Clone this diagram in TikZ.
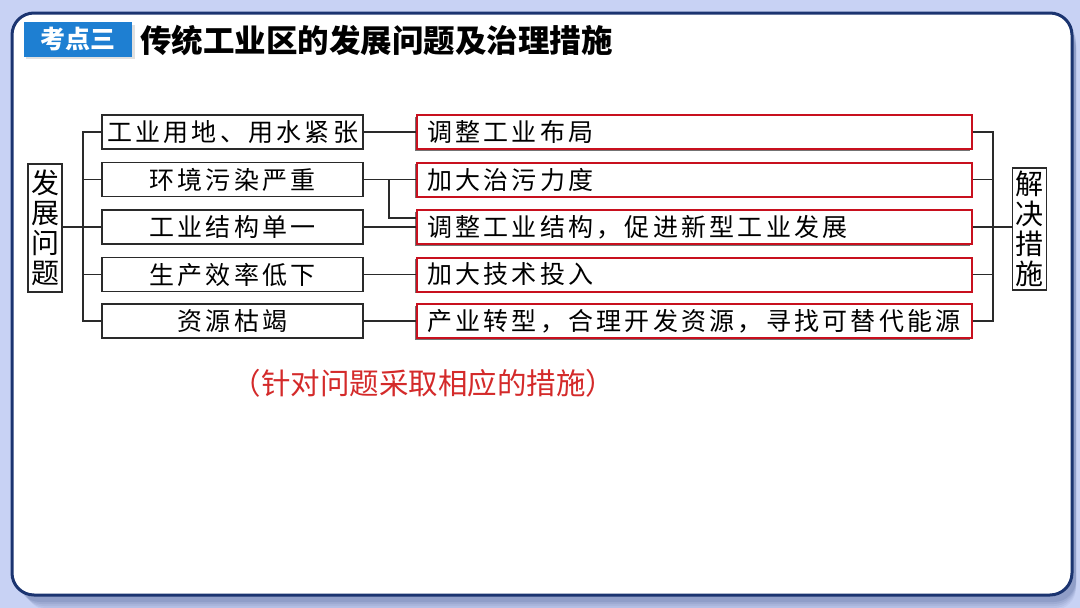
\documentclass[tikz,border=0pt]{standalone}
\usepackage{fontspec}
\usetikzlibrary{shadows,calc}
\newfontfamily\cjk{Noto Sans CJK SC}
\newfontfamily\cjksp[LetterSpace=13]{Noto Sans CJK SC}
\definecolor{bgblue}{HTML}{C8D2F4}
\definecolor{navy}{HTML}{1B3470}
\definecolor{tagblue}{HTML}{1E7FD2}
\definecolor{boxred}{HTML}{C8101E}
\definecolor{notered}{HTML}{D42A2A}
\definecolor{linegray}{HTML}{2A2A2A}
\tikzset{
  probbox/.style={draw=linegray, line width=1.4pt, fill=white, minimum width=261pt, minimum height=34pt, inner sep=0pt, font=\cjksp\fontsize{25}{25}\selectfont},
  solbox/.style={draw=boxred, line width=2pt, fill=white, minimum width=555pt, minimum height=34pt, inner xsep=10pt, inner ysep=0pt, text width=535pt, align=left, font=\cjksp\fontsize{25}{25}\selectfont,
    drop shadow={shadow xshift=-1.6pt, shadow yshift=-1.6pt, opacity=0.55, fill=black}},
  sidebox/.style={draw=linegray, line width=1.4pt, fill=white, minimum width=34pt, inner sep=2pt, align=center, font=\cjk\fontsize{28}{30}\selectfont},
  conn/.style={draw=linegray, line width=1.4pt}
}
\begin{document}
\begin{tikzpicture}[x=1pt,y=-1pt]
\useasboundingbox (0,0) rectangle (1080,608);
\fill[bgblue] (0,0) rectangle (1080,608);
% panel shadow
\foreach \o/\a in {12/0.05,10/0.06,8/0.07,6/0.08,4/0.1}{
  \fill[navy, opacity=\a, rounded corners=22pt] (14+\o,16+\o) rectangle (1076,598+\o);
}
\draw[navy, line width=3pt, fill=white, rounded corners=22pt] (12,13) rectangle (1072,595);
% header
\fill[black, opacity=0.12] (26,25) rectangle (135,59);
\node[fill=tagblue, minimum width=108pt, minimum height=35pt, inner sep=0pt, text=white, font=\cjk\bfseries\fontsize{25}{25}\selectfont] (tag) at (78,39.5) {考点三};
\node[anchor=west, inner sep=0pt, font=\cjk\bfseries\fontsize{31.5}{31.5}\selectfont] (title) at (140,40) {传统工业区的发展问题及治理措施};
% problem boxes
\node[probbox] (p1) at (232.5,132) {工业用地、用水紧张};
\node[probbox] (p2) at (232.5,179.5) {环境污染严重};
\node[probbox] (p3) at (232.5,227) {工业结构单一};
\node[probbox] (p4) at (232.5,274.5) {生产效率低下};
\node[probbox] (p5) at (232.5,321) {资源枯竭};
% solution boxes
\node[solbox] (s1) at (694.5,132) {调整工业布局};
\node[solbox] (s2) at (694.5,179.5) {加大治污力度};
\node[solbox] (s3) at (694.5,227) {调整工业结构，促进新型工业发展};
\node[solbox] (s4) at (694.5,274.5) {加大技术投入};
\node[solbox] (s5) at (694.5,321) {产业转型，合理开发资源，寻找可替代能源};
% side boxes
\node[sidebox, minimum height=128pt] (L) at (45,228) {发\\展\\问\\题};
\node[sidebox, minimum height=122pt] (R) at (1029.5,229) {解\\决\\措\\施};
% left bracket
\coordinate (bl) at (83,0);
\draw[conn] (p1.west) -- (p1.west -| bl) -- (p5.west -| bl) -- (p5.west);
\foreach \i in {2,3,4}{\draw[conn] (p\i.west) -- (p\i.west -| bl);}
\draw[conn] (L.east |- p3.west) -- (p3.west -| bl);
% middle connectors
\foreach \i in {1,2,3,4,5}{\draw[conn] (p\i.east) -- (s\i.west);}
\coordinate (br) at (389,218);
\draw[conn] (br |- p2.east) -- (br) -- (br -| s3.west);
% right bracket
\coordinate (rb) at (993,0);
\draw[conn] (s1.east) -- (s1.east -| rb) -- (s5.east -| rb) -- (s5.east);
\foreach \i in {2,3,4}{\draw[conn] (s\i.east) -- (s\i.east -| rb);}
\draw[conn] (R.west |- s3.east) -- (s3.east -| rb);
% note
\node[text=notered, inner sep=0pt, font=\cjk\fontsize{29.5}{29.5}\selectfont] (note) at (423.5,383) {\makebox[30pt][r]{（}针对问题采取相应的措施\makebox[30pt][l]{）}};
\end{tikzpicture}
\end{document}
